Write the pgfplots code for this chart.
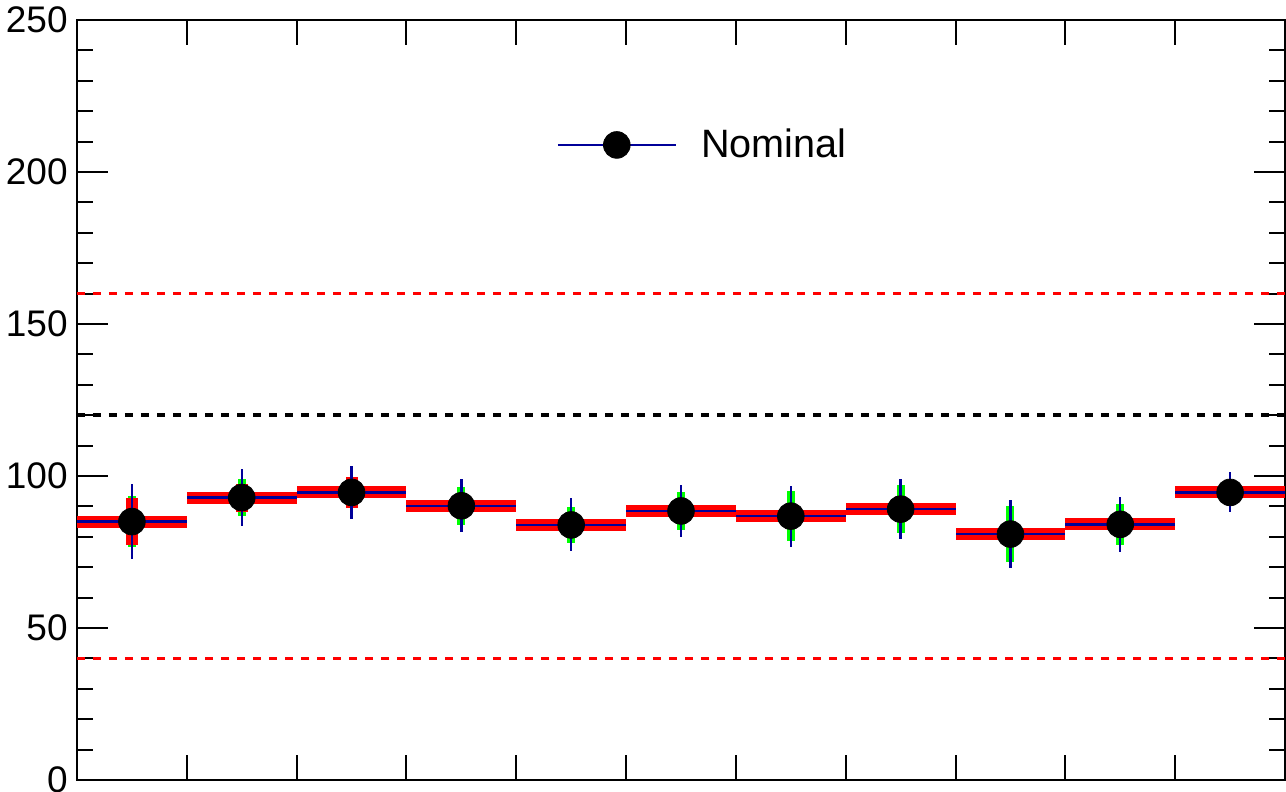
\documentclass[border=0pt]{standalone}
\usepackage{fontspec}
\setmainfont{Liberation Sans}
\usepackage{pgfplots}
\usepackage{pgfplotstable}
\pgfplotsset{compat=1.18}
\definecolor{nblue}{RGB}{0,0,153}
\definecolor{ngreen}{RGB}{0,255,0}
\pgfplotstableread{
x y eb eg er ex
0.5 85.0 12.4 8.4 7.6 0.5
1.5 92.9 9.3 6.2 4.6 0.5
2.5 94.6 8.6 4.8 5.0 0.5
3.5 90.2 8.7 6.2 3.0 0.5
4.5 83.9 8.7 5.8 3.0 0.5
5.5 88.5 8.6 6.2 3.0 0.5
6.5 86.8 10.0 8.3 3.0 0.5
7.5 89.1 9.9 8.0 3.0 0.5
8.5 80.9 11.2 9.2 3.0 0.5
9.5 84.1 9.1 6.7 3.0 0.5
10.5 94.6 6.6 4.0 3.0 0.5
}\datatab
\begin{document}
\begin{tikzpicture}
\begin{axis}[name=ax, scale only axis, width=604pt, height=380pt,
  xmin=0, xmax=11, ymin=0, ymax=250,
  xtick={1,...,10}, xticklabels={},
  ytick={0,50,...,250}, minor y tick num=4,
  major tick length=15.5pt, minor tick length=8pt,
  xtick style={/pgfplots/major tick length=12.5pt},
  axis line style={line width=1pt},
  every tick/.append style={black, line width=1pt},
  tick label style={font=\fontsize{18.5}{20}\selectfont},
  /pgf/number format/assume math mode=true,
  yticklabel style={inner sep=0pt},
  yticklabel shift=4.5pt,
  legend style={draw=none, fill=none, at={(axis cs:4.3636,208.9)}, anchor=west,
    font=\fontsize{19.8}{22}\selectfont, inner sep=0pt, nodes={inner sep=0pt},
    /tikz/every odd column/.append style={column sep=12pt}},
  legend image code/.code={\draw[nblue, line width=1.2pt] (0pt,0pt) -- (59pt,0pt); \fill[black] (29.5pt,0pt) circle (6.67pt);},
]
\addplot[red, dash pattern=on 4pt off 4pt, line width=1.8pt, forget plot] coordinates {(0,160) (11,160)};
\addplot[red, dash pattern=on 4pt off 4pt, line width=1.8pt, forget plot] coordinates {(0,40) (11,40)};
\addplot[black, dash pattern=on 4pt off 4pt, line width=1.8pt, forget plot] coordinates {(0,120) (11,120)};
\addplot[draw=none, mark=none, forget plot,
  error bars/.cd, y dir=both, y explicit, error mark=none,
  error bar style={draw=ngreen, line width=4pt}]
  table[x=x, y=y, y error=eg] {\datatab};
\addplot[draw=none, mark=none, forget plot,
  error bars/.cd, x dir=both, x explicit, y dir=both, y explicit, error mark=none,
  error bar style={draw=red, line width=6pt}]
  table[x=x, y=y, x error=ex, y error=er] {\datatab};
\addplot[draw=none, mark=none, forget plot,
  error bars/.cd, x dir=both, x explicit, y dir=both, y explicit, error mark=none,
  error bar style={draw=nblue, line width=1.2pt}]
  table[x=x, y=y, x error=ex, y error=eb] {\datatab};
\addplot[only marks, mark=*, mark size=6.67pt, black] table[x=x, y=y] {\datatab};
\addlegendentry{Nominal}
\end{axis}
\pgfresetboundingbox
\path[use as bounding box] ([xshift=-38.5pt,yshift=-6pt]ax.south west) rectangle ([xshift=0.5pt,yshift=10pt]ax.north east);
\end{tikzpicture}
\end{document}
